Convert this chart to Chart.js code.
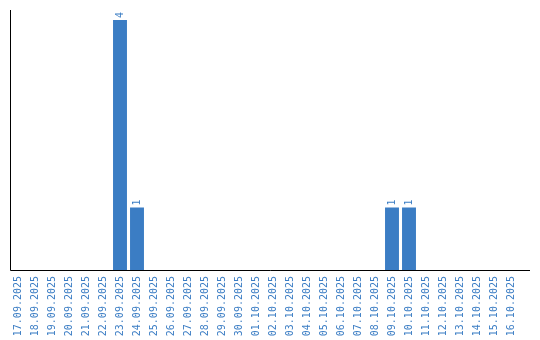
<!DOCTYPE html>
<html>
<head>
<meta charset="utf-8">
<script src="https://cdn.jsdelivr.net/npm/chart.js@4"></script>
<style>
  html, body { margin: 0; padding: 0; background: #fff; }
  #wrap { width: 540px; height: 340px; }
</style>
</head>
<body>
<div id="wrap"><canvas id="barChartCanvas" width="540" height="340"></canvas></div>
<script>
// dates et valeurs
const labels = ['17.09.2025', '18.09.2025', '19.09.2025', '20.09.2025', '21.09.2025', '22.09.2025',
    '23.09.2025', '24.09.2025', '25.09.2025', '26.09.2025', '27.09.2025', '28.09.2025', '29.09.2025',
    '30.09.2025', '01.10.2025', '02.10.2025', '03.10.2025', '04.10.2025', '05.10.2025', '06.10.2025',
    '07.10.2025', '08.10.2025', '09.10.2025', '10.10.2025', '11.10.2025', '12.10.2025', '13.10.2025',
    '14.10.2025', '15.10.2025', '16.10.2025'];
const counts = [0, 0, 0, 0, 0, 0, 4, 1, 0, 0, 0, 0, 0, 0, 0, 0, 0, 0, 0, 0, 0, 0, 1, 1, 0, 0, 0, 0, 0, 0];

const blue = '#3b7dc4';

// axes + valeurs au-dessus des barres
const axesPlugin = {
    id: 'axesPlugin',
    afterDatasetsDraw(chart) {
        const ctx = chart.ctx;
        const area = chart.chartArea;
        ctx.save();
        ctx.strokeStyle = '#000';
        ctx.lineWidth = 1;
        ctx.beginPath();
        ctx.moveTo(10.5, 10);
        ctx.lineTo(10.5, area.bottom + 0.5);
        ctx.lineTo(530, area.bottom + 0.5);
        ctx.stroke();

        ctx.fillStyle = blue;
        ctx.font = '10px "DejaVu Sans Mono"';
        ctx.textAlign = 'left';
        ctx.textBaseline = 'middle';
        chart.getDatasetMeta(0).data.forEach(function (bar, i) {
            if (!counts[i]) return;
            ctx.save();
            ctx.translate(bar.x, bar.y - 2);
            ctx.rotate(-Math.PI / 2);
            ctx.fillText(String(counts[i]), 0, 0);
            ctx.restore();
        });
        ctx.restore();
    }
};

const barCtx = document.getElementById('barChartCanvas').getContext('2d');
const barChart = new Chart(barCtx, {
    type: 'bar',
    data: {
        labels: labels,
        datasets: [{
            data: counts,
            backgroundColor: blue,
            borderWidth: 0,
            barPercentage: 0.82,
            categoryPercentage: 1
        }]
    },
    options: {
        responsive: false,
        animation: false,
        layout: { padding: { top: 10, left: 9.5, right: 20.5, bottom: 0 } },
        plugins: { legend: { display: false }, tooltip: { enabled: false } },
        scales: {
            x: {
                grid: { display: false, drawTicks: false },
                border: { display: false },
                ticks: {
                    color: blue,
                    font: { family: 'DejaVu Sans Mono', size: 10 },
                    minRotation: 90,
                    maxRotation: 90,
                    autoSkip: false,
                    padding: 6
                },
                afterFit: function (scale) { scale.height = 70; }
            },
            y: {
                display: false,
                min: 0,
                max: 4.16
            }
        }
    },
    plugins: [axesPlugin]
});
</script>
</body>
</html>
